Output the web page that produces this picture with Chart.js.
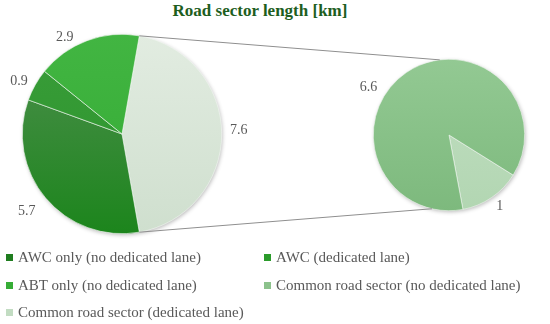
<!DOCTYPE html>
<html>
<head>
<meta charset="utf-8">
<script src="https://cdn.jsdelivr.net/npm/chart.js@4.4.1/dist/chart.umd.min.js"></script>
<style>
  body { margin: 0; background: #fff; }
  #wrap { position: relative; width: 550px; height: 324px; font-family: "Liberation Serif", serif; }
  #title { position: absolute; top: 1px; left: 0; width: 520px; text-align: center; font-weight: bold; font-size: 17px; color: #1e5e1e; }
  canvas { position: absolute; left: 0; top: 0; }
  .lg { position: absolute; font-size: 15px; color: #595959; white-space: nowrap; line-height: 16px; }
  .lg i { display: inline-block; width: 7px; height: 7px; margin-right: 5px; vertical-align: 1px; }
</style>
</head>
<body>
<div id="wrap">
  <div id="title">Road sector length [km]</div>
  <canvas id="mainPie" width="550" height="250"></canvas>
  <canvas id="subPie" width="550" height="250"></canvas>
  <div id="legend"></div>
</div>
<script>
// main pie (the 7.6 slice is split out in the second pie)
const mainLabels = ["Common road sector", "AWC only (no dedicated lane)", "AWC (dedicated lane)", "ABT only (no dedicated lane)"];
const mainValues = [7.6, 5.7, 0.9, 2.9];
// second pie
const subLabels = ["Common road sector (dedicated lane)", "Common road sector (no dedicated lane)"];
const subValues = [1, 6.6];

const legendLabels = [
  "AWC only (no dedicated lane)", "AWC (dedicated lane)",
  "ABT only (no dedicated lane)", "Common road sector (no dedicated lane)",
  "Common road sector (dedicated lane)"
];
const legendColors = ["#1f7d1f", "#2b9b2b", "#36ad36", "#8cc28c", "#c2dcc2"];

// [top, bottom] gradient stops per slice
const mainShades = [["#e2ece1", "#cfdfce"], ["#4f8f4f", "#1c851c"], ["#3a9c3a", "#2a962a"], ["#42b542", "#33ab33"]];
const subShades = [["#c2dfc2", "#b2d6b2"], ["#93c993", "#7db97d"]];

function shade(shades) {
  return ctx => {
    const area = ctx.chart.chartArea;
    if (!area) return shades[ctx.dataIndex][0];
    const g = ctx.chart.ctx.createLinearGradient(0, area.top, 0, area.bottom);
    g.addColorStop(0, shades[ctx.dataIndex][0]);
    g.addColorStop(1, shades[ctx.dataIndex][1]);
    return g;
  };
}

// soft shadow under the whole pie
const pieShadow = {
  id: "pieShadow",
  beforeDatasetsDraw(chart) {
    const arc = chart.getDatasetMeta(0).data[0];
    if (!arc) return;
    const ctx = chart.ctx;
    ctx.save();
    ctx.shadowColor = "rgba(0,0,0,0.3)";
    ctx.shadowBlur = 4;
    ctx.shadowOffsetX = 1;
    ctx.shadowOffsetY = 1.5;
    ctx.fillStyle = "#ddd";
    ctx.beginPath();
    ctx.arc(arc.x, arc.y, arc.outerRadius - 0.5, 0, Math.PI * 2);
    ctx.fill();
    ctx.restore();
  }
};

// value labels outside the slices
const outLabels = {
  id: "outLabels",
  afterDatasetsDraw(chart, args, opts) {
    const ctx = chart.ctx;
    const values = chart.data.datasets[0].data;
    ctx.save();
    ctx.font = "14px 'Liberation Serif', serif";
    ctx.fillStyle = "#595959";
    ctx.textAlign = "center";
    ctx.textBaseline = "middle";
    chart.getDatasetMeta(0).data.forEach((arc, i) => {
      const a = (arc.startAngle + arc.endAngle) / 2 + opts.nudge[i] * Math.PI / 180;
      const r = arc.outerRadius + opts.dist[i];
      ctx.fillText(String(values[i]), arc.x + r * Math.cos(a), arc.y + r * Math.sin(a));
    });
    ctx.restore();
  }
};

const mainChart = new Chart(document.getElementById("mainPie"), {
  type: "pie",
  data: {
    labels: mainLabels,
    datasets: [{ data: mainValues, backgroundColor: shade(mainShades), borderWidth: 0.6, borderColor: "#f4f8f4" }]
  },
  options: {
    responsive: false,
    animation: false,
    rotation: 10,
    layout: { padding: { left: 21, right: 327, top: 34, bottom: 16 } },
    plugins: {
      legend: { display: false },
      tooltip: { enabled: false },
      outLabels: { dist: [17, 23, 16, 13], nudge: [-2, 1, -2.5, -10] }
    }
  },
  plugins: [pieShadow, outLabels]
});

// lines from the split slice to the second pie
const connector = {
  id: "connector",
  afterDatasetsDraw(chart, args, opts) {
    const src = mainChart.getDatasetMeta(0).data[0];
    const dst = chart.getDatasetMeta(0).data[0];
    const ctx = chart.ctx;
    const pt = (arc, ang) => [arc.x + arc.outerRadius * Math.cos(ang), arc.y + arc.outerRadius * Math.sin(ang)];
    const deg = d => (d - 90) * Math.PI / 180;
    const lines = [
      [pt(src, src.startAngle), pt(dst, deg(opts.topAngle))],
      [pt(src, src.endAngle), pt(dst, deg(opts.bottomAngle))]
    ];
    ctx.save();
    ctx.strokeStyle = "#8f8f8f";
    ctx.lineWidth = 1;
    lines.forEach(([a, b]) => {
      ctx.beginPath();
      ctx.moveTo(a[0], a[1]);
      ctx.lineTo(b[0], b[1]);
      ctx.stroke();
    });
    ctx.restore();
  }
};

new Chart(document.getElementById("subPie"), {
  type: "pie",
  data: {
    labels: subLabels,
    datasets: [{ data: subValues, backgroundColor: shade(subShades), borderWidth: 0.6, borderColor: "#eef5ee" }]
  },
  options: {
    responsive: false,
    animation: false,
    rotation: 122,
    layout: { padding: { left: 373, right: 25, top: 58, bottom: 38 } },
    plugins: {
      legend: { display: false },
      tooltip: { enabled: false },
      outLabels: { dist: [12, 18], nudge: [-1, -25] },
      connector: { topAngle: -7, bottomAngle: 193 }
    }
  },
  plugins: [pieShadow, outLabels, connector]
});

// legend, two columns like the original
const legend = document.getElementById("legend");
legendLabels.forEach((label, i) => {
  const el = document.createElement("div");
  el.className = "lg";
  el.style.left = (i % 2 ? 264 : 6) + "px";
  el.style.top = (249 + Math.floor(i / 2) * 27.5) + "px";
  el.innerHTML = '<i style="background:' + legendColors[i] + '"></i>' + label;
  legend.appendChild(el);
});
</script>
</body>
</html>
